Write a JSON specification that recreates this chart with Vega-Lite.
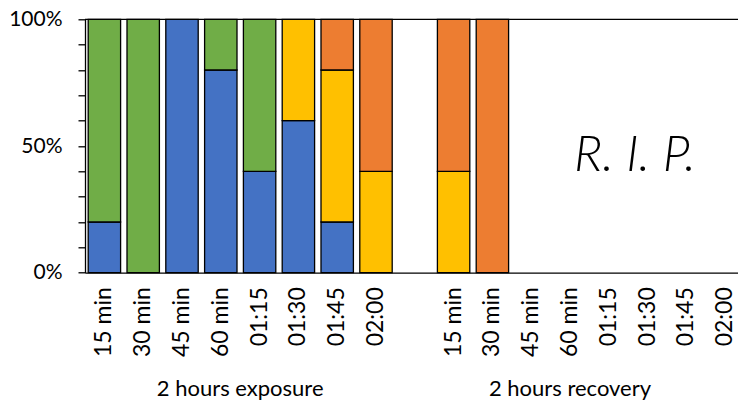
{
  "$schema": "https://vega.github.io/schema/vega-lite/v6.json",
  "width": 653,
  "height": 253.4,
  "autosize": {"type": "none"},
  "padding": {"left": 85, "top": 19.3, "right": 0, "bottom": 129.3},
  "config": {"view": {"stroke": null}, "font": "Lato", "text": {"font": "Lato"}},
  "datasets": {
    "bars": [
      {"slot": "e:15 min", "series": "A", "value": 20},
      {"slot": "e:15 min", "series": "B", "value": 80},
      {"slot": "e:30 min", "series": "B", "value": 100},
      {"slot": "e:45 min", "series": "A", "value": 100},
      {"slot": "e:60 min", "series": "A", "value": 80},
      {"slot": "e:60 min", "series": "B", "value": 20},
      {"slot": "e:01:15", "series": "A", "value": 40},
      {"slot": "e:01:15", "series": "B", "value": 60},
      {"slot": "e:01:30", "series": "A", "value": 60},
      {"slot": "e:01:30", "series": "C", "value": 40},
      {"slot": "e:01:45", "series": "A", "value": 20},
      {"slot": "e:01:45", "series": "C", "value": 60},
      {"slot": "e:01:45", "series": "D", "value": 20},
      {"slot": "e:02:00", "series": "C", "value": 40},
      {"slot": "e:02:00", "series": "D", "value": 60},
      {"slot": "r:15 min", "series": "C", "value": 40},
      {"slot": "r:15 min", "series": "D", "value": 60},
      {"slot": "r:30 min", "series": "D", "value": 100}
    ]
  },
  "layer": [
    {
      "data": {"name": "bars"},
      "mark": {"type": "bar", "stroke": "#000000", "strokeWidth": 1.3},
      "encoding": {
        "x": {
          "field": "slot",
          "type": "nominal",
          "scale": {
            "domain": ["e:15 min", "e:30 min", "e:45 min", "e:60 min", "e:01:15", "e:01:30", "e:01:45", "e:02:00", "g:", "r:15 min", "r:30 min", "r:45 min", "r:60 min", "r:01:15", "r:01:30", "r:01:45", "r:02:00"],
            "range": [0, 659.6],
            "paddingInner": 0.165,
            "paddingOuter": 0.0825
          },
          "axis": {
            "title": null,
            "labelExpr": "slice(datum.value, 2)",
            "labelAngle": -90,
            "labelAlign": "right",
            "labelBaseline": "middle",
            "labelPadding": 14,
            "labelFontSize": 23,
            "labelFont": "Lato",
            "labelColor": "#000000",
            "labelOverlap": false,
            "labelBound": false,
            "ticks": false,
            "domain": true,
            "domainColor": "#000000",
            "domainWidth": 1.3,
            "grid": false
          }
        },
        "y": {
          "field": "value",
          "type": "quantitative",
          "stack": "zero",
          "scale": {"domain": [0, 100], "nice": false},
          "axis": {
            "title": null,
            "values": [0, 10, 20, 30, 40, 50, 60, 70, 80, 90, 100],
            "labelExpr": "datum.value % 50 == 0 ? datum.value + '%' : ''",
            "labelOverlap": false,
            "labelBound": false,
            "labelFontSize": 21,
            "labelFont": "Lato",
            "labelColor": "#000000",
            "labelPadding": 16,
            "tickSize": 7,
            "tickColor": "#000000",
            "tickWidth": 1.3,
            "domainColor": "#000000",
            "domainWidth": 1.3,
            "grid": false
          }
        },
        "color": {
          "field": "series",
          "type": "nominal",
          "scale": {"domain": ["A", "B", "C", "D"], "range": ["#4472C4", "#70AD47", "#FFC000", "#ED7D31"]},
          "legend": null
        },
        "order": {"field": "series", "sort": "ascending"}
      }
    },
    {
      "data": {"values": [{"value": 100}]},
      "mark": {"type": "rule", "color": "#000000", "strokeWidth": 1.3},
      "encoding": {
        "y": {
          "field": "value",
          "type": "quantitative",
          "axis": {
            "title": null,
            "values": [0, 10, 20, 30, 40, 50, 60, 70, 80, 90, 100],
            "labelExpr": "datum.value % 50 == 0 ? datum.value + '%' : ''",
            "labelOverlap": false,
            "labelBound": false,
            "labelFontSize": 21,
            "labelFont": "Lato",
            "labelColor": "#000000",
            "labelPadding": 16,
            "tickSize": 7,
            "tickColor": "#000000",
            "tickWidth": 1.3,
            "domainColor": "#000000",
            "domainWidth": 1.3,
            "grid": false
          }
        }
      }
    },
    {
      "data": {"values": [{"slot": "e:60 min", "label": "2 hours exposure", "value": 0}]},
      "mark": {"type": "text", "fontSize": 22, "color": "#000000", "baseline": "alphabetic", "align": "center", "dx": 19.4, "dy": 123.3},
      "encoding": {
        "x": {"field": "slot", "type": "nominal"},
        "y": {"field": "value", "type": "quantitative", "axis": {
            "title": null,
            "values": [0, 10, 20, 30, 40, 50, 60, 70, 80, 90, 100],
            "labelExpr": "datum.value % 50 == 0 ? datum.value + '%' : ''",
            "labelOverlap": false,
            "labelBound": false,
            "labelFontSize": 21,
            "labelFont": "Lato",
            "labelColor": "#000000",
            "labelPadding": 16,
            "tickSize": 7,
            "tickColor": "#000000",
            "tickWidth": 1.3,
            "domainColor": "#000000",
            "domainWidth": 1.3,
            "grid": false
          }},
        "text": {"field": "label"}
      }
    },
    {
      "data": {"values": [{"slot": "r:60 min", "label": "2 hours recovery", "value": 0}]},
      "mark": {"type": "text", "fontSize": 22, "color": "#000000", "baseline": "alphabetic", "align": "center", "dy": 123.3},
      "encoding": {
        "x": {"field": "slot", "type": "nominal"},
        "y": {"field": "value", "type": "quantitative", "axis": {
            "title": null,
            "values": [0, 10, 20, 30, 40, 50, 60, 70, 80, 90, 100],
            "labelExpr": "datum.value % 50 == 0 ? datum.value + '%' : ''",
            "labelOverlap": false,
            "labelBound": false,
            "labelFontSize": 21,
            "labelFont": "Lato",
            "labelColor": "#000000",
            "labelPadding": 16,
            "tickSize": 7,
            "tickColor": "#000000",
            "tickWidth": 1.3,
            "domainColor": "#000000",
            "domainWidth": 1.3,
            "grid": false
          }},
        "text": {"field": "label"}
      }
    },
    {
      "data": {"values": [{"slot": "r:01:30", "label": "R. I. P.", "value": 40}]},
      "mark": {"type": "text", "fontSize": 50, "fontStyle": "italic", "fontWeight": 300, "color": "#000000", "baseline": "alphabetic", "align": "center", "dx": -12.7},
      "encoding": {
        "x": {"field": "slot", "type": "nominal"},
        "y": {"field": "value", "type": "quantitative", "axis": {
            "title": null,
            "values": [0, 10, 20, 30, 40, 50, 60, 70, 80, 90, 100],
            "labelExpr": "datum.value % 50 == 0 ? datum.value + '%' : ''",
            "labelOverlap": false,
            "labelBound": false,
            "labelFontSize": 21,
            "labelFont": "Lato",
            "labelColor": "#000000",
            "labelPadding": 16,
            "tickSize": 7,
            "tickColor": "#000000",
            "tickWidth": 1.3,
            "domainColor": "#000000",
            "domainWidth": 1.3,
            "grid": false
          }},
        "text": {"field": "label"}
      }
    }
  ]
}
